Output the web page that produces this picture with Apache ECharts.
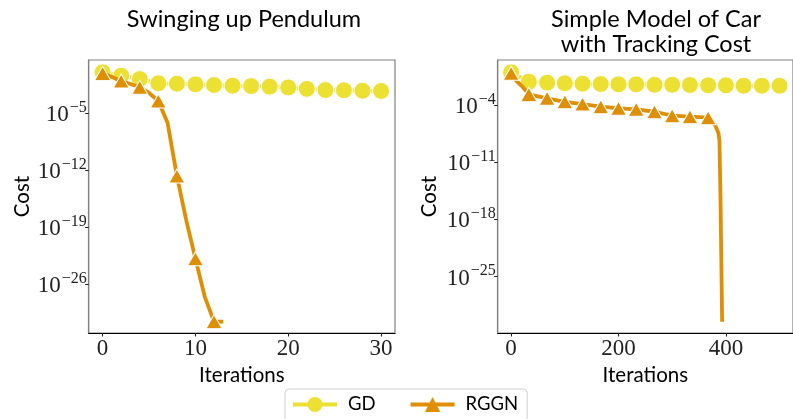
<!DOCTYPE html>
<html>
<head>
<meta charset="utf-8">
<script src="https://cdn.jsdelivr.net/npm/echarts@6/dist/echarts.min.js"></script>
<style>
html,body{margin:0;padding:0;background:#fff;}
#chart{width:793px;height:419px;}
</style>
</head>
<body>
<div id="chart"></div>
<script>
// ---- Data ----
const seriesNames = ['GD', 'RGGN'];

// Swinging up Pendulum
const pendGdIter = [0, 2, 4, 6, 8, 10, 12, 14, 16, 18, 20, 22, 24, 26, 28, 30];
const pendGdCost = [1.1, 0.42, 0.16, 0.049, 0.044, 0.036, 0.030, 0.025, 0.022, 0.019, 0.015, 0.010, 0.0072, 0.0068, 0.006, 0.0055];
const pendRggnIter = [0, 1, 2, 3, 4, 5, 6, 7, 8, 9, 10, 11, 12, 13];
const pendRggnCost = [0.81, 0.29, 0.093, 0.04, 0.016, 0.0032, 3.2e-4, 6.5e-7, 2e-13, 8e-19, 1.3e-23, 3e-28, 2.5e-31, 2.5e-31];
const pendRggnMarkerIter = [0, 2, 4, 6, 8, 10, 12];

// Simple Model of Car with Tracking Cost
const carGdIter = [0, 33, 67, 100, 133, 167, 200, 233, 267, 300, 333, 367, 400, 433, 467, 500];
const carGdCost = [1.0, 0.071, 0.054, 0.046, 0.041, 0.037, 0.034, 0.034, 0.030, 0.030, 0.028, 0.026, 0.026, 0.023, 0.023, 0.023];
const carRggnIter = [0, 10, 20, 33, 67, 100, 133, 167, 200, 233, 267, 300, 333, 367, 380, 386, 388, 390, 392, 393];
const carRggnCost = [0.76, 0.087, 0.021, 2.0e-3, 6.6e-4, 2.5e-4, 1.3e-4, 6.2e-5, 4.0e-5, 3.0e-5, 1.5e-5, 4.9e-6, 3.7e-6, 2.8e-6, 3.5e-7, 3.7e-8, 5e-9, 2.5e-16, 4e-26, 3e-31];
const carRggnMarkerIter = [0, 33, 67, 100, 133, 167, 200, 233, 267, 300, 333, 367];

// Tick labels
const pendXTicks = [0, 10, 20, 30];
const pendYTicks = [1e-26, 1e-19, 1e-12, 1e-5];
const carXTicks = [0, 200, 400];
const carYTicks = [1e-25, 1e-18, 1e-11, 1e-4];

const titles = ['Swinging up Pendulum', 'Simple Model of Car\nwith Tracking Cost'];
const xName = 'Iterations';
const yName = 'Cost';

// ---- Styling ----
const GD_COLOR = '#ece133';
const RGGN_COLOR = '#de8f05';
const SANS = 'Lato, "Open Sans", sans-serif';
const SERIF = '"Liberation Serif", "DejaVu Serif", serif';

function pts(iters, costs, markers) {
  return iters.map((x, i) => {
    const item = { value: [x, costs[i]] };
    if (markers && markers.indexOf(x) < 0) item.symbol = 'none';
    return item;
  });
}

function expLabel(v) {
  let e = v > 0 ? Math.round(Math.log10(v)) : Math.round(v);
  const s = e < 0 ? '\u2212' + Math.abs(e) : String(e);
  return '{b|10}{e|' + s + '}';
}

function xAxis(gridIndex, min, max, ticks) {
  return {
    type: 'value', gridIndex, min, max,
    name: xName, nameLocation: 'middle', nameGap: 28,
    nameTextStyle: { fontFamily: SANS, fontSize: 20.5, color: '#000' },
    axisLine: { show: true, onZero: false, lineStyle: { color: '#000', width: 1.2 } },
    axisTick: { show: true, length: 3.5, customValues: ticks, lineStyle: { color: '#222', width: 1 } },
    axisLabel: { customValues: ticks, margin: 4, fontFamily: SERIF, fontSize: 23, color: '#222' },
    splitLine: { show: false }
  };
}

function yAxis(gridIndex, min, max, ticks, nameGap) {
  return {
    type: 'log', logBase: 10, gridIndex, min, max,
    name: yName, nameLocation: 'middle', nameGap,
    nameTextStyle: { fontFamily: SANS, fontSize: 20.5, color: '#000' },
    axisLine: { show: true, onZero: false, lineStyle: { color: '#808080', width: 1.2 } },
    axisTick: { show: true, length: 3.5, customValues: ticks, lineStyle: { color: '#222', width: 1 } },
    axisLabel: {
      customValues: ticks, margin: 2, formatter: expLabel,
      rich: {
        b: { fontFamily: SERIF, fontSize: 23, color: '#222', lineHeight: 27, verticalAlign: 'bottom' },
        e: { fontFamily: SERIF, fontSize: 16, color: '#222', lineHeight: 16, verticalAlign: 'top', padding: [0, 0, 0, 1] }
      }
    },
    splitLine: { show: false }
  };
}

function gdSeries(xi, iters, costs) {
  return {
    name: 'GD', type: 'line', xAxisIndex: xi, yAxisIndex: xi,
    data: pts(iters, costs, null),
    symbol: 'circle', symbolSize: 17, showAllSymbol: true,
    lineStyle: { color: GD_COLOR, width: 4 },
    itemStyle: { color: GD_COLOR, borderColor: '#fff', borderWidth: 1 },
    animation: false, z: 2
  };
}

function rggnSeries(xi, iters, costs, markers) {
  return {
    name: 'RGGN', type: 'line', xAxisIndex: xi, yAxisIndex: xi,
    data: pts(iters, costs, markers),
    symbol: 'triangle', symbolSize: [16, 14], showAllSymbol: true,
    lineStyle: { color: RGGN_COLOR, width: 3.8 },
    itemStyle: { color: RGGN_COLOR, borderColor: '#fff', borderWidth: 1 },
    animation: false, z: 3
  };
}

const chart = echarts.init(document.getElementById('chart'), null, { renderer: 'canvas' });
chart.setOption({
  backgroundColor: '#fff',
  animation: false,
  title: [
    { text: titles[0], left: 239, top: 2, textAlign: 'center',
      textStyle: { fontFamily: SANS, fontSize: 23.5, fontWeight: 'normal', color: '#000' } },
    { text: titles[1], left: 651, top: 2, textAlign: 'center',
      textStyle: { fontFamily: SANS, fontSize: 23.5, fontWeight: 'normal', color: '#000', lineHeight: 25 } }
  ],
  grid: [
    { left: 88.7, top: 60, width: 306.3, height: 273, show: true, borderColor: '#808080', borderWidth: 1.2, backgroundColor: 'transparent' },
    { left: 497.7, top: 60, width: 304.5, height: 273, show: true, borderColor: '#808080', borderWidth: 1.2, backgroundColor: 'transparent' }
  ],
  xAxis: [xAxis(0, -1.5, 31.5, pendXTicks), xAxis(1, -25, 525, carXTicks)],
  yAxis: [yAxis(0, 1e-32, Math.pow(10, 1.55), pendYTicks, 56), yAxis(1, Math.pow(10, -31.9), Math.pow(10, 1.51), carYTicks, 58)],
  legend: {
    data: seriesNames, left: 285, top: 389,
    orient: 'horizontal',
    itemWidth: 44, itemHeight: 19, itemGap: 33,
    padding: [6, 9, 8, 6],
    backgroundColor: '#fff', borderColor: '#d0d0d0', borderWidth: 1, borderRadius: 4,
    textStyle: { fontFamily: SANS, fontSize: 18.5, color: '#000', padding: [0, 0, 0, 6] },
    lineStyle: { width: 4, type: 'solid', cap: 'butt' },
    itemStyle: { borderWidth: 0 }
  },
  series: [
    gdSeries(0, pendGdIter, pendGdCost),
    rggnSeries(0, pendRggnIter, pendRggnCost, pendRggnMarkerIter),
    gdSeries(1, carGdIter, carGdCost),
    rggnSeries(1, carRggnIter, carRggnCost, carRggnMarkerIter)
  ]
});
</script>
</body>
</html>
